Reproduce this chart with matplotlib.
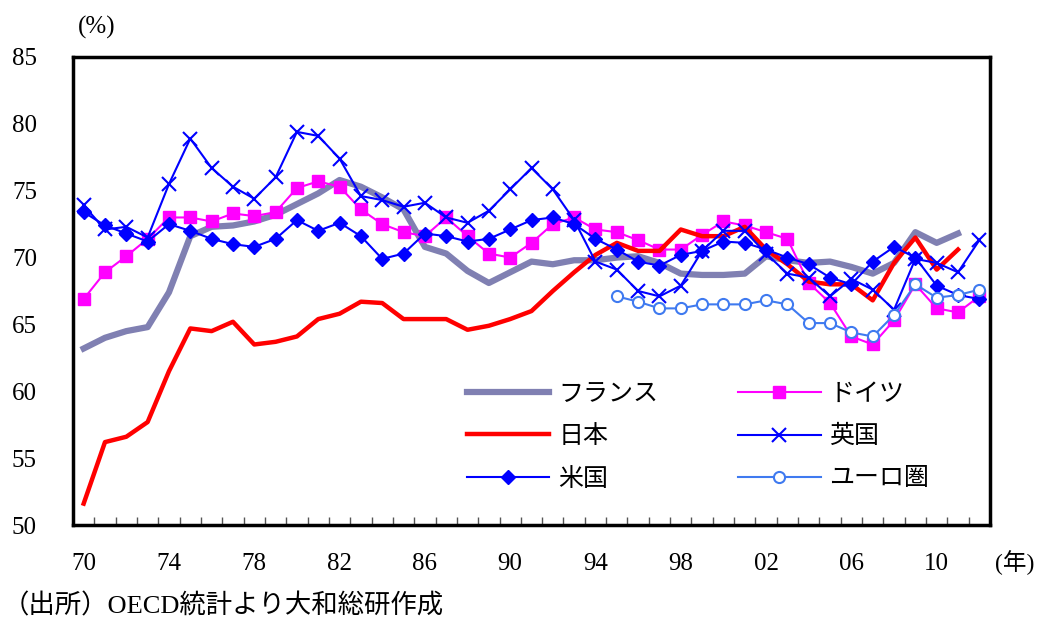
import matplotlib
matplotlib.use("Agg")
import matplotlib.pyplot as plt
import numpy as np

plt.rcParams['font.family'] = ['Liberation Serif', 'Noto Sans CJK JP', 'DejaVu Sans']

years = np.arange(1970, 2013)

france = [63.2, 64.0, 64.5, 64.8, 67.4, 71.6, 72.3, 72.4, 72.7, 73.2,
          74.0, 74.8, 75.8, 75.3, 74.5, 73.6, 70.8, 70.3, 69.0, 68.1,
          68.9, 69.7, 69.5, 69.8, 69.8, 70.0, 70.1, 69.6, 68.8, 68.7,
          68.7, 68.8, 70.1, 69.8, 69.6, 69.7, 69.3, 68.8, 69.6, 71.9, 71.1, 71.8]
germany = [66.9, 68.9, 70.1, 71.4, 73.0, 73.0, 72.7, 73.3, 73.1, 73.4,
           75.2, 75.7, 75.3, 73.6, 72.5, 71.9, 71.6, 73.0, 71.6, 70.3,
           70.0, 71.1, 72.5, 73.0, 72.1, 71.9, 71.3, 70.6, 70.6, 71.7,
           72.7, 72.4, 71.9, 71.4, 68.1, 66.6, 64.1, 63.5, 65.3, 68.0, 66.2, 65.9, 67.1]
japan = [51.6, 56.2, 56.6, 57.7, 61.5, 64.7, 64.5, 65.2, 63.5, 63.7,
         64.1, 65.4, 65.8, 66.7, 66.6, 65.4, 65.4, 65.4, 64.6, 64.9,
         65.4, 66.0, 67.5, 68.9, 70.2, 71.1, 70.5, 70.5, 72.1, 71.6,
         71.6, 72.3, 70.6, 69.5, 68.2, 68.0, 68.0, 66.8, 69.6, 71.5, 69.1, 70.6]
uk = [73.9, 72.1, 72.3, 71.5, 75.5, 78.9, 76.7, 75.3, 74.4, 76.0,
      79.4, 79.1, 77.4, 74.6, 74.3, 73.8, 74.1, 73.0, 72.6, 73.5,
      75.1, 76.7, 75.1, 72.8, 69.7, 69.1, 67.5, 67.1, 67.9, 70.5,
      72.0, 72.0, 70.3, 68.8, 68.5, 67.1, 68.4, 67.6, 66.1, 69.9, 69.6, 68.9, 71.3]
us = [73.4, 72.4, 71.8, 71.2, 72.5, 72.0, 71.4, 71.0, 70.8, 71.4,
      72.8, 72.0, 72.6, 71.6, 69.9, 70.3, 71.8, 71.6, 71.2, 71.4,
      72.1, 72.8, 73.0, 72.5, 71.4, 70.6, 69.7, 69.4, 70.2, 70.5,
      71.2, 71.1, 70.6, 70.0, 69.5, 68.5, 68.0, 69.7, 70.8, 70.0, 67.9, 67.2, 66.9]
euro_years = np.arange(1995, 2013)
euro = [67.1, 66.7, 66.2, 66.2, 66.5, 66.5, 66.5, 66.8, 66.5, 65.1,
        65.1, 64.4, 64.1, 65.7, 68.0, 67.0, 67.2, 67.6]

label_years = np.arange(1970, 2011, 4)

W, H = 1044, 618
fig = plt.figure(figsize=(W / 100, H / 100), dpi=100)
ax = fig.add_axes([73 / W, 1 - 525 / H, (990 - 73) / W, (525 - 57) / H])

l_fr, = ax.plot(years[:len(france)], france, color="#8080b2", lw=4.5, label="フランス")
l_de, = ax.plot(years, germany, color="#ff00ff", lw=1.5, marker="s", ms=8, label="ドイツ")
l_jp, = ax.plot(years[:len(japan)], japan, color="#ff0000", lw=3.2, label="日本")
l_uk, = ax.plot(years, uk, color="#0000ff", lw=1.5, marker="x", ms=10, mew=1.5, label="英国")
l_us, = ax.plot(years, us, color="#0000ff", lw=1.5, marker="D", ms=7, label="米国")
l_eu, = ax.plot(euro_years, euro, color="#3f7af0", lw=1.5, marker="o", ms=8,
                mfc="white", mew=1.5, label="ユーロ圏")

ax.set_xlim(1969.5, 2012.5)
ax.set_ylim(50, 85)
ax.set_yticks(np.arange(50, 86, 5))
ax.set_xticks(label_years)
ax.set_xticklabels([f"{y % 100:02d}" for y in label_years])
ax.set_xticks(np.arange(1969.5, 2013, 1), minor=True)
ax.tick_params(axis="x", which="major", length=0, pad=20, labelsize=18)
ax.tick_params(axis="x", which="minor", direction="in", length=6, width=1, color="#555555")
ax.tick_params(axis="y", length=0, pad=26, labelsize=18)

for s in ax.spines.values():
    s.set_linewidth(2.5)

fig.text(78 / W, 1 - 27 / H, "(%)", fontsize=18, ha="left", va="center")
fig.text(995 / W, 1 - 563 / H, "(年)", fontsize=17, ha="left", va="center")
fig.text(3 / W, 1 - 606 / H, "（出所）OECD統計より大和総研作成", fontsize=19, ha="left", va="center")

leg = ax.legend(handles=[l_fr, l_jp, l_us, l_de, l_uk, l_eu], ncol=2, frameon=False,
                loc="lower left", bbox_to_anchor=(0.416, 0.047), fontsize=18, borderpad=0,
                handlelength=3.3, columnspacing=3.2, labelspacing=0.78, handletextpad=0.35)

fig.savefig("out.png", dpi=100)
